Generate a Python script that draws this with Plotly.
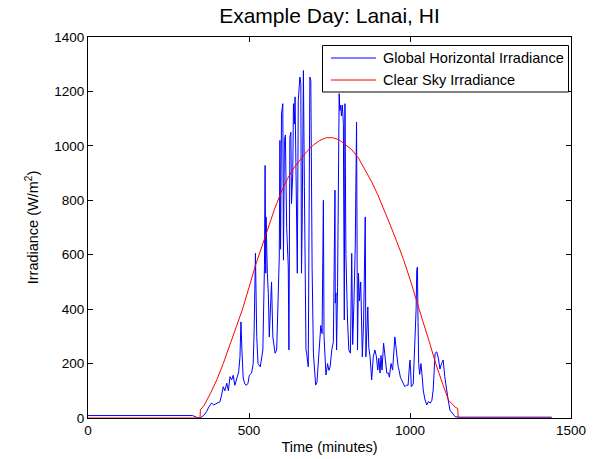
import plotly.graph_objects as go

# Clear-sky irradiance (minutes, W/m^2)
clear_t = [0, 348, 349, 360, 380, 400, 420, 440, 460, 480, 500, 520, 540, 560, 580, 600,
           620, 640, 660, 680, 700, 720, 740, 760, 780, 800, 820, 840, 860, 880, 900, 920,
           940, 960, 980, 1000, 1020, 1040, 1060, 1080, 1100, 1120, 1140, 1148, 1150, 1440]
clear_v = [0, 0, 30, 45, 90, 140, 200, 265, 330, 400, 480, 560, 630, 700, 770, 830,
           880, 920, 950, 980, 1003, 1020, 1030, 1030, 1022, 1005, 985, 955, 915, 870, 820, 765,
           705, 645, 582, 510, 430, 355, 280, 200, 130, 65, 40, 35, 0, 0]

# Global horizontal irradiance (minutes, W/m^2)
ghi_t = [0, 325, 340, 350, 360, 368, 375, 384, 390, 400, 410, 415, 420, 425, 431, 436, 441, 446,
         451, 456, 462, 468, 472, 475, 478, 482, 487, 492, 497, 501, 508, 513, 516, 520, 524, 528,
         535, 540, 543, 548, 550, 552, 553, 557, 560, 563, 566, 570, 574, 578, 581, 586, 591, 594,
         596, 598, 601, 605, 607, 610, 613, 617, 622, 624, 627, 630, 632, 636, 638, 641, 643, 646,
         650, 653, 656, 658, 661, 663, 665, 669, 672, 675, 677, 679, 684, 686, 689, 692, 694, 696,
         700, 703, 707, 711, 714, 720, 723, 727, 731, 733, 736, 739, 744, 748, 752, 757, 762, 767,
         768, 770, 772, 775, 780, 782, 785, 787, 790, 793, 796, 798, 801, 803, 806, 810, 815, 819,
         822, 826, 830, 834, 837, 840, 843, 847, 850, 852, 856, 858, 861, 863, 869, 872, 876, 881,
         886, 891, 895, 900, 903, 907, 910, 913, 918, 923, 928, 933, 936, 941, 946, 953, 958, 963,
         966, 970, 974, 980, 984, 989, 994, 998, 1000, 1002, 1004, 1010, 1016, 1019, 1021, 1023,
         1025, 1027, 1030, 1034, 1038, 1041, 1046, 1052, 1057, 1063, 1068, 1072, 1078, 1083, 1088,
         1093, 1098, 1103, 1108, 1114, 1118, 1124, 1129, 1134, 1140, 1150, 1440]
ghi_v = [9, 9, 1, 1, 10, 23, 40, 55, 48, 55, 60, 85, 115, 100, 128, 100, 152, 140,
         157, 120, 145, 170, 225, 353, 250, 147, 125, 120, 128, 157, 165, 200, 323, 605, 300, 200,
         188, 240, 250, 560, 928, 532, 739, 532, 457, 298, 420, 500, 298, 260, 238, 250, 457, 592,
         1020, 620, 1118, 1155, 580, 1020, 1040, 700, 555, 250, 1032, 1050, 788, 900, 1155, 1080, 1180, 900,
         532, 1167, 1204, 1253, 1230, 532, 700, 1277, 850, 400, 250, 238, 188, 600, 1253, 1240, 800, 550,
         238, 165, 121, 130, 188, 298, 340, 310, 800, 300, 188, 158, 200, 175, 188, 250, 280, 837,
         422, 460, 250, 480, 1192, 1130, 1150, 1110, 1150, 1082, 360, 1155, 600, 480, 360, 250, 238, 605,
         270, 430, 629, 1087, 250, 532, 430, 500, 300, 225, 360, 500, 739, 225, 408, 260, 225, 140,
         225, 250, 230, 176, 220, 165, 230, 176, 275, 220, 165, 165, 150, 200, 176, 298, 240, 190,
         176, 150, 140, 125, 115, 121, 120, 188, 213, 176, 115, 125, 286, 400, 543, 555,
         350, 200, 160, 200, 150, 103, 70, 48, 60, 55, 65, 103, 238, 243, 220,
         180, 200, 213, 152, 90, 70, 29, 22, 17, 5, 3, 3]

series_names = ["Global Horizontal Irradiance", "Clear Sky Irradiance"]
series_colors = ["#0000ff", "#ff0000"]

x_ticks = [0, 500, 1000, 1500]
y_ticks = [0, 200, 400, 600, 800, 1000, 1200, 1400]

FONT = "Liberation Sans, Arial, sans-serif"
W, H = 596, 459
ML, MR, MT, MB = 88, 25, 37, 41
PW, PH = W - ML - MR, H - MT - MB


def px_x(p):
    return (p - ML) / PW


def px_y(p):
    return (H - MB - p) / PH


fig = go.Figure()
fig.add_trace(go.Scatter(x=ghi_t, y=ghi_v, mode="lines", name=series_names[0],
                         line=dict(color=series_colors[0], width=1), showlegend=False))
fig.add_trace(go.Scatter(x=clear_t, y=clear_v, mode="lines", name=series_names[1],
                         line=dict(color=series_colors[1], width=1), showlegend=False))

axis_common = dict(showline=True, linecolor="black", linewidth=1, mirror="ticks",
                   ticks="inside", ticklen=5, tickcolor="black", showgrid=False,
                   zeroline=False, automargin=False,
                   tickfont=dict(family=FONT, size=13.5, color="black"))

# Manual legend box (MATLAB style)
shapes = [dict(type="rect", xref="paper", yref="paper",
               x0=px_x(322.5), x1=px_x(568.5), y0=px_y(92), y1=px_y(45.5),
               line=dict(color="black", width=1), fillcolor="white", layer="above")]
annotations = []
rows_y = [58, 80]
for name, col, ry in zip(series_names, series_colors, rows_y):
    shapes.append(dict(type="line", xref="paper", yref="paper",
                       x0=px_x(331), x1=px_x(376), y0=px_y(ry), y1=px_y(ry),
                       line=dict(color=col, width=1), layer="above"))
    annotations.append(dict(text=name, xref="paper", yref="paper", x=px_x(380.5), y=px_y(ry),
                            xanchor="left", yanchor="middle", showarrow=False,
                            font=dict(family=FONT, size=14.6, color="black")))

fig.update_layout(
    width=W, height=H,
    margin=dict(l=ML, r=MR, t=MT, b=MB),
    paper_bgcolor="white", plot_bgcolor="white",
    title=dict(text="Example Day: Lanai, HI", x=0.5, xref="paper", xanchor="center",
               y=1 - 15.5 / H, yanchor="middle",
               font=dict(family=FONT, size=21, color="black")),
    xaxis=dict(range=[0, 1500], tickvals=x_ticks, ticktext=[str(v) for v in x_ticks],
               title=dict(text="Time (minutes)", standoff=4,
                          font=dict(family=FONT, size=14.5, color="black")),
               **axis_common),
    yaxis=dict(range=[0, 1400], tickvals=y_ticks, ticktext=[str(v) for v in y_ticks],
               title=dict(text="Irradiance (W/m<sup>2</sup>)", standoff=12,
                          font=dict(family=FONT, size=14.5, color="black")),
               **axis_common),
    shapes=shapes,
    annotations=annotations,
    showlegend=False,
)

fig.write_html("out.html")
